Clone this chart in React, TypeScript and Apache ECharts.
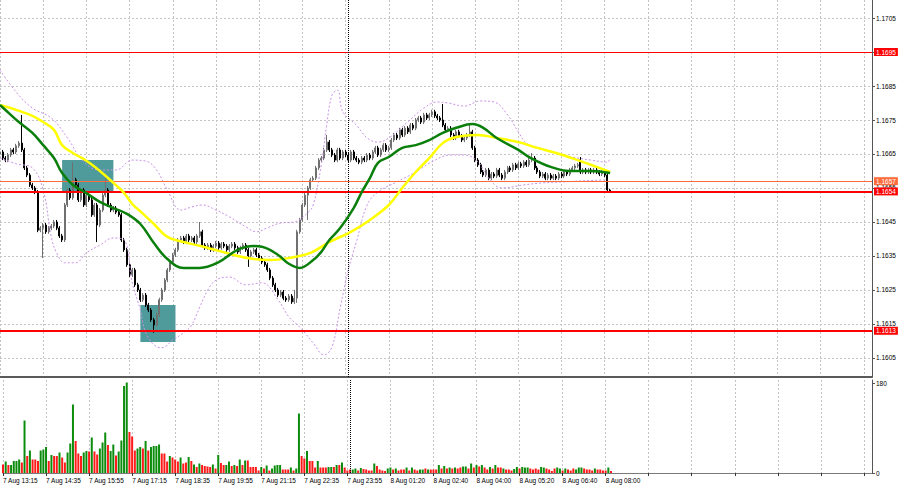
import React, { useEffect, useRef } from 'react';
import * as echarts from 'echarts';

const tickLabels = ['7 Aug 13:15', '7 Aug 14:35', '7 Aug 15:55', '7 Aug 17:15', '7 Aug 18:35', '7 Aug 19:55', '7 Aug 21:15', '7 Aug 22:35', '7 Aug 23:55', '8 Aug 01:20', '8 Aug 02:40', '8 Aug 04:00', '8 Aug 05:20', '8 Aug 06:40', '8 Aug 08:00'];
const priceTicks = [1.1605, 1.1615, 1.1625, 1.1635, 1.1645, 1.1655, 1.1665, 1.1675, 1.1685, 1.1695, 1.1705];
const volumeTicks = [0, 180];

const opens = [
  1.16650, 1.16656, 1.16638, 1.16632, 1.16647, 1.16662, 1.16656, 1.16674, 1.16682, 1.16662,
  1.16609, 1.16588, 1.16559, 1.16550, 1.16538, 1.16426, 1.16432, 1.16441, 1.16421, 1.16432,
  1.16438, 1.16450, 1.16432, 1.16409, 1.16397, 1.16500, 1.16544, 1.16521, 1.16574, 1.16559,
  1.16515, 1.16544, 1.16500, 1.16529, 1.16515, 1.16471, 1.16500, 1.16441, 1.16485, 1.16529,
  1.16544, 1.16500, 1.16485, 1.16491, 1.16479, 1.16471, 1.16397, 1.16368, 1.16324, 1.16294,
  1.16309, 1.16265, 1.16250, 1.16221, 1.16235, 1.16206, 1.16191, 1.16162, 1.16147, 1.16177,
  1.16221, 1.16250, 1.16279, 1.16309, 1.16332, 1.16353, 1.16368, 1.16397, 1.16403, 1.16391,
  1.16409, 1.16397, 1.16403, 1.16391, 1.16409, 1.16421, 1.16382, 1.16374, 1.16382, 1.16368,
  1.16379, 1.16388, 1.16374, 1.16385, 1.16379, 1.16368, 1.16379, 1.16385, 1.16374, 1.16362,
  1.16374, 1.16382, 1.16368, 1.16350, 1.16362, 1.16368, 1.16353, 1.16344, 1.16332, 1.16324,
  1.16309, 1.16285, 1.16265, 1.16250, 1.16235, 1.16244, 1.16226, 1.16221, 1.16232, 1.16215,
  1.16226, 1.16421, 1.16456, 1.16500, 1.16529, 1.16550, 1.16574, 1.16579, 1.16609, 1.16632,
  1.16638, 1.16662, 1.16685, 1.16662, 1.16647, 1.16632, 1.16662, 1.16638, 1.16656, 1.16647,
  1.16632, 1.16656, 1.16638, 1.16632, 1.16626, 1.16638, 1.16632, 1.16647, 1.16638, 1.16656,
  1.16668, 1.16647, 1.16662, 1.16676, 1.16662, 1.16668, 1.16691, 1.16706, 1.16697, 1.16721,
  1.16706, 1.16726, 1.16715, 1.16735, 1.16726, 1.16750, 1.16756, 1.16744, 1.16765, 1.16756,
  1.16765, 1.16774, 1.16762, 1.16756, 1.16750, 1.16735, 1.16721, 1.16726, 1.16706, 1.16697,
  1.16715, 1.16703, 1.16691, 1.16697, 1.16706, 1.16715, 1.16668, 1.16632, 1.16618, 1.16597,
  1.16588, 1.16603, 1.16579, 1.16591, 1.16585, 1.16603, 1.16588, 1.16579, 1.16597, 1.16609,
  1.16603, 1.16618, 1.16609, 1.16621, 1.16615, 1.16626, 1.16618, 1.16632, 1.16638, 1.16609,
  1.16597, 1.16585, 1.16591, 1.16579, 1.16588, 1.16579, 1.16585, 1.16579, 1.16591, 1.16585,
  1.16597, 1.16591, 1.16603, 1.16609, 1.16615, 1.16632, 1.16597, 1.16603, 1.16597, 1.16603,
  1.16597, 1.16603, 1.16597, 1.16591, 1.16597, 1.16588, 1.16544,
];
const closes = [
  1.16656, 1.16638, 1.16632, 1.16647, 1.16662, 1.16656, 1.16674, 1.16682, 1.16662, 1.16609,
  1.16588, 1.16559, 1.16550, 1.16538, 1.16426, 1.16432, 1.16441, 1.16421, 1.16432, 1.16438,
  1.16450, 1.16432, 1.16409, 1.16397, 1.16500, 1.16544, 1.16521, 1.16574, 1.16559, 1.16515,
  1.16544, 1.16500, 1.16529, 1.16515, 1.16471, 1.16500, 1.16441, 1.16485, 1.16529, 1.16544,
  1.16500, 1.16485, 1.16491, 1.16479, 1.16471, 1.16397, 1.16368, 1.16324, 1.16294, 1.16309,
  1.16265, 1.16250, 1.16221, 1.16235, 1.16206, 1.16191, 1.16162, 1.16147, 1.16177, 1.16221,
  1.16250, 1.16279, 1.16309, 1.16332, 1.16353, 1.16368, 1.16397, 1.16403, 1.16391, 1.16409,
  1.16397, 1.16403, 1.16391, 1.16409, 1.16421, 1.16382, 1.16374, 1.16382, 1.16368, 1.16379,
  1.16388, 1.16374, 1.16385, 1.16379, 1.16368, 1.16379, 1.16385, 1.16374, 1.16362, 1.16374,
  1.16382, 1.16368, 1.16350, 1.16362, 1.16368, 1.16353, 1.16344, 1.16332, 1.16324, 1.16309,
  1.16285, 1.16265, 1.16250, 1.16235, 1.16244, 1.16226, 1.16221, 1.16232, 1.16215, 1.16226,
  1.16421, 1.16456, 1.16500, 1.16529, 1.16550, 1.16574, 1.16579, 1.16609, 1.16632, 1.16638,
  1.16662, 1.16685, 1.16662, 1.16647, 1.16632, 1.16662, 1.16638, 1.16656, 1.16647, 1.16632,
  1.16656, 1.16638, 1.16632, 1.16626, 1.16638, 1.16632, 1.16647, 1.16638, 1.16656, 1.16668,
  1.16647, 1.16662, 1.16676, 1.16662, 1.16668, 1.16691, 1.16706, 1.16697, 1.16721, 1.16706,
  1.16726, 1.16715, 1.16735, 1.16726, 1.16750, 1.16756, 1.16744, 1.16765, 1.16756, 1.16765,
  1.16774, 1.16762, 1.16756, 1.16750, 1.16735, 1.16721, 1.16726, 1.16706, 1.16697, 1.16715,
  1.16703, 1.16691, 1.16697, 1.16706, 1.16715, 1.16668, 1.16632, 1.16618, 1.16597, 1.16588,
  1.16603, 1.16579, 1.16591, 1.16585, 1.16603, 1.16588, 1.16579, 1.16597, 1.16609, 1.16603,
  1.16618, 1.16609, 1.16621, 1.16615, 1.16626, 1.16618, 1.16632, 1.16638, 1.16609, 1.16597,
  1.16585, 1.16591, 1.16579, 1.16588, 1.16579, 1.16585, 1.16579, 1.16591, 1.16585, 1.16597,
  1.16591, 1.16603, 1.16609, 1.16615, 1.16618, 1.16597, 1.16603, 1.16597, 1.16603, 1.16597,
  1.16603, 1.16597, 1.16591, 1.16597, 1.16588, 1.16544, 1.16538,
];
const lows = [
  1.16644, 1.16632, 1.16626, 1.16626, 1.16641, 1.16650, 1.16650, 1.16668, 1.16656, 1.16603,
  1.16582, 1.16553, 1.16544, 1.16532, 1.16420, 1.16420, 1.16344, 1.16415, 1.16415, 1.16426,
  1.16432, 1.16426, 1.16403, 1.16391, 1.16391, 1.16494, 1.16515, 1.16515, 1.16553, 1.16509,
  1.16509, 1.16494, 1.16494, 1.16509, 1.16465, 1.16465, 1.16391, 1.16435, 1.16479, 1.16523,
  1.16494, 1.16479, 1.16479, 1.16473, 1.16465, 1.16391, 1.16362, 1.16318, 1.16288, 1.16288,
  1.16259, 1.16244, 1.16215, 1.16215, 1.16200, 1.16185, 1.16156, 1.16124, 1.16141, 1.16171,
  1.16215, 1.16244, 1.16273, 1.16303, 1.16326, 1.16347, 1.16362, 1.16391, 1.16385, 1.16385,
  1.16391, 1.16391, 1.16385, 1.16385, 1.16403, 1.16376, 1.16368, 1.16368, 1.16362, 1.16362,
  1.16373, 1.16368, 1.16368, 1.16373, 1.16362, 1.16362, 1.16373, 1.16368, 1.16356, 1.16356,
  1.16368, 1.16362, 1.16318, 1.16344, 1.16356, 1.16347, 1.16338, 1.16326, 1.16318, 1.16303,
  1.16279, 1.16259, 1.16244, 1.16229, 1.16229, 1.16220, 1.16215, 1.16215, 1.16209, 1.16209,
  1.16212, 1.16415, 1.16450, 1.16494, 1.16456, 1.16544, 1.16568, 1.16573, 1.16603, 1.16626,
  1.16632, 1.16656, 1.16656, 1.16641, 1.16626, 1.16626, 1.16632, 1.16632, 1.16641, 1.16626,
  1.16626, 1.16632, 1.16626, 1.16620, 1.16620, 1.16626, 1.16626, 1.16632, 1.16632, 1.16650,
  1.16641, 1.16641, 1.16656, 1.16656, 1.16656, 1.16662, 1.16685, 1.16691, 1.16691, 1.16700,
  1.16700, 1.16709, 1.16709, 1.16720, 1.16720, 1.16744, 1.16738, 1.16738, 1.16750, 1.16750,
  1.16759, 1.16756, 1.16750, 1.16744, 1.16729, 1.16715, 1.16715, 1.16700, 1.16691, 1.16691,
  1.16697, 1.16685, 1.16685, 1.16691, 1.16700, 1.16662, 1.16626, 1.16612, 1.16591, 1.16582,
  1.16582, 1.16573, 1.16573, 1.16579, 1.16579, 1.16582, 1.16573, 1.16573, 1.16591, 1.16597,
  1.16597, 1.16603, 1.16603, 1.16609, 1.16609, 1.16612, 1.16612, 1.16626, 1.16603, 1.16591,
  1.16579, 1.16579, 1.16573, 1.16573, 1.16573, 1.16573, 1.16573, 1.16573, 1.16579, 1.16579,
  1.16585, 1.16585, 1.16597, 1.16603, 1.16609, 1.16591, 1.16591, 1.16591, 1.16591, 1.16591,
  1.16591, 1.16591, 1.16585, 1.16585, 1.16582, 1.16538, 1.16535,
];
const highs = [
  1.16662, 1.16662, 1.16644, 1.16653, 1.16668, 1.16668, 1.16680, 1.16688, 1.16765, 1.16668,
  1.16615, 1.16594, 1.16565, 1.16556, 1.16544, 1.16438, 1.16447, 1.16447, 1.16438, 1.16444,
  1.16456, 1.16456, 1.16438, 1.16415, 1.16506, 1.16550, 1.16550, 1.16626, 1.16580, 1.16565,
  1.16550, 1.16550, 1.16535, 1.16535, 1.16521, 1.16506, 1.16506, 1.16491, 1.16535, 1.16588,
  1.16550, 1.16506, 1.16497, 1.16497, 1.16485, 1.16477, 1.16403, 1.16374, 1.16330, 1.16315,
  1.16315, 1.16271, 1.16256, 1.16241, 1.16241, 1.16212, 1.16197, 1.16168, 1.16183, 1.16227,
  1.16256, 1.16285, 1.16315, 1.16338, 1.16359, 1.16374, 1.16403, 1.16409, 1.16409, 1.16415,
  1.16415, 1.16409, 1.16409, 1.16415, 1.16450, 1.16427, 1.16388, 1.16388, 1.16388, 1.16385,
  1.16394, 1.16394, 1.16391, 1.16391, 1.16385, 1.16385, 1.16391, 1.16391, 1.16380, 1.16380,
  1.16388, 1.16388, 1.16374, 1.16368, 1.16374, 1.16374, 1.16359, 1.16350, 1.16338, 1.16330,
  1.16315, 1.16291, 1.16271, 1.16256, 1.16250, 1.16250, 1.16232, 1.16238, 1.16238, 1.16250,
  1.16427, 1.16462, 1.16506, 1.16535, 1.16556, 1.16580, 1.16585, 1.16615, 1.16638, 1.16644,
  1.16668, 1.16706, 1.16691, 1.16668, 1.16653, 1.16668, 1.16668, 1.16662, 1.16662, 1.16653,
  1.16662, 1.16662, 1.16644, 1.16638, 1.16644, 1.16644, 1.16653, 1.16653, 1.16662, 1.16674,
  1.16674, 1.16668, 1.16682, 1.16682, 1.16674, 1.16697, 1.16712, 1.16712, 1.16727, 1.16727,
  1.16732, 1.16732, 1.16741, 1.16741, 1.16756, 1.16762, 1.16762, 1.16771, 1.16771, 1.16771,
  1.16780, 1.16780, 1.16768, 1.16762, 1.16797, 1.16741, 1.16732, 1.16732, 1.16712, 1.16721,
  1.16721, 1.16709, 1.16703, 1.16712, 1.16735, 1.16721, 1.16674, 1.16638, 1.16624, 1.16603,
  1.16609, 1.16609, 1.16597, 1.16597, 1.16609, 1.16609, 1.16594, 1.16603, 1.16615, 1.16615,
  1.16624, 1.16624, 1.16627, 1.16627, 1.16632, 1.16632, 1.16638, 1.16653, 1.16644, 1.16615,
  1.16603, 1.16597, 1.16597, 1.16594, 1.16594, 1.16591, 1.16591, 1.16597, 1.16597, 1.16603,
  1.16603, 1.16609, 1.16615, 1.16621, 1.16624, 1.16641, 1.16609, 1.16609, 1.16609, 1.16609,
  1.16609, 1.16609, 1.16603, 1.16603, 1.16603, 1.16594, 1.16547,
];

const volumes = [
  17, 23, 16, 16, 24, 24, 27, 21, 105, 34,
  45, 27, 27, 24, 45, 47, 52, 24, 36, 34,
  34, 41, 31, 21, 41, 59, 137, 64, 39, 34,
  41, 44, 43, 71, 43, 37, 49, 61, 81, 56,
  44, 57, 35, 43, 65, 174, 181, 82, 73, 45,
  49, 52, 49, 64, 45, 52, 54, 54, 57, 39,
  39, 23, 34, 31, 27, 23, 31, 19, 21, 32,
  24, 17, 12, 19, 16, 14, 13, 12, 17, 9,
  36, 20, 16, 16, 23, 14, 16, 14, 27, 16,
  25, 25, 12, 12, 12, 5, 12, 9, 15, 5,
  9, 15, 16, 16, 7, 7, 7, 11, 5, 9,
  119, 34, 29, 44, 24, 24, 11, 24, 11, 11,
  11, 12, 12, 12, 16, 16, 21, 11, 5, 7,
  7, 9, 5, 10, 8, 7, 5, 5, 19, 14,
  7, 5, 4, 9, 11, 7, 9, 5, 7, 7,
  11, 5, 11, 7, 5, 7, 7, 9, 7, 7,
  7, 7, 16, 9, 14, 9, 11, 9, 11, 9,
  11, 13, 13, 9, 19, 11, 16, 13, 16, 11,
  7, 12, 9, 16, 11, 11, 9, 7, 7, 5,
  8, 12, 9, 12, 11, 11, 9, 7, 9, 7,
  12, 11, 9, 7, 4, 9, 11, 9, 5, 9,
  7, 5, 9, 7, 11, 11, 9, 7, 7, 5,
  9, 7, 7, 5, 5, 11, 4,
];
const volumeRising = [
  0, 1, 0, 1, 1, 1, 1, 0, 1, 0,
  1, 0, 0, 0, 1, 1, 1, 0, 1, 0,
  0, 1, 0, 0, 1, 1, 1, 0, 0, 0,
  1, 1, 0, 1, 0, 0, 1, 1, 1, 0,
  1, 1, 0, 1, 1, 1, 1, 0, 0, 0,
  1, 1, 0, 1, 0, 1, 1, 1, 1, 0,
  0, 0, 1, 0, 0, 0, 1, 0, 0, 1,
  0, 1, 0, 1, 0, 0, 0, 0, 1, 0,
  1, 0, 0, 1, 1, 0, 1, 0, 1, 0,
  1, 0, 0, 0, 0, 0, 1, 0, 1, 0,
  1, 1, 1, 1, 0, 0, 0, 1, 0, 1,
  1, 0, 0, 1, 0, 0, 0, 1, 0, 0,
  0, 1, 1, 0, 1, 0, 1, 0, 0, 0,
  1, 1, 0, 1, 0, 0, 0, 0, 1, 0,
  0, 0, 0, 1, 1, 0, 1, 0, 0, 0,
  1, 0, 1, 0, 0, 1, 1, 0, 1, 0,
  0, 0, 1, 0, 1, 0, 1, 0, 1, 0,
  0, 1, 1, 0, 1, 0, 1, 0, 1, 0,
  0, 1, 0, 1, 0, 0, 1, 0, 0, 0,
  1, 1, 0, 1, 1, 1, 0, 0, 0, 0,
  1, 1, 0, 0, 0, 0, 1, 1, 0, 1,
  0, 0, 0, 1, 1, 1, 0, 0, 0, 0,
  1, 0, 0, 0, 0, 1, 0,
];

// [bar index, value] pairs
const greenMA = [
  [0, 1.16794], [4, 1.16765], [7, 1.16744], [12, 1.16712], [16, 1.16676], [20, 1.16638], [23, 1.16594],
  [27, 1.16559], [32, 1.16535], [37, 1.16509], [42, 1.16491], [47, 1.16474], [52, 1.16444], [57, 1.16388],
  [62, 1.16341], [68, 1.16315], [74, 1.16315], [81, 1.16332], [88, 1.16368], [94, 1.16379], [97, 1.16377],
  [103, 1.16353], [107, 1.16327], [111, 1.16315], [116, 1.16338], [119, 1.16362], [122, 1.16397],
  [126, 1.16432], [131, 1.16491], [134, 1.16538], [137, 1.16579], [140, 1.16624], [144, 1.16641],
  [149, 1.16668], [154, 1.16676], [159, 1.16691], [164, 1.16712], [169, 1.16727], [175, 1.16738],
  [179, 1.16727], [184, 1.16697], [192, 1.16662], [196, 1.16641], [204, 1.16612], [211, 1.16600],
  [219, 1.16600], [226, 1.16594],
];
const yellowMA = [
  [0, 1.16794], [7, 1.16777], [12, 1.16762], [16, 1.16744], [20, 1.16721], [23, 1.16676], [27, 1.16653],
  [32, 1.16630], [37, 1.16600], [42, 1.16565], [46, 1.16535], [49, 1.16503], [53, 1.16474], [57, 1.16444],
  [62, 1.16406], [68, 1.16391], [74, 1.16380], [81, 1.16365], [88, 1.16350], [94, 1.16341], [100, 1.16338],
  [107, 1.16344], [115, 1.16359], [122, 1.16391], [130, 1.16421], [137, 1.16456], [144, 1.16500],
  [149, 1.16550], [154, 1.16597], [159, 1.16638], [164, 1.16682], [169, 1.16700], [177, 1.16706],
  [184, 1.16697], [192, 1.16685], [199, 1.16668], [206, 1.16653], [214, 1.16632], [221, 1.16612],
  [226, 1.16597],
];
const bandUpper = [
  [0, 1.16897], [6, 1.16832], [12, 1.16785], [19, 1.16756], [25, 1.16697], [31, 1.16627], [37, 1.16603],
  [43, 1.16603], [49, 1.16632], [54, 1.16629], [58, 1.16603], [62, 1.16544], [67, 1.16485], [71, 1.16494],
  [75, 1.16500], [80, 1.16485], [85, 1.16465], [91, 1.16436], [95, 1.16421], [99, 1.16433], [104, 1.16447],
  [109, 1.16450], [114, 1.16477], [116, 1.16500], [119, 1.16618], [121, 1.16735], [123, 1.16824],
  [125, 1.16838], [127, 1.16774], [132, 1.16735], [136, 1.16697], [140, 1.16685], [144, 1.16697],
  [151, 1.16744], [157, 1.16785], [162, 1.16803], [166, 1.16800], [172, 1.16791], [178, 1.16806],
  [183, 1.16803], [188, 1.16765], [192, 1.16715], [195, 1.16682], [200, 1.16668], [206, 1.16653],
  [212, 1.16641], [219, 1.16632], [225, 1.16626], [226, 1.16638],
];
const bandLower = [
  [0, 1.16638], [6, 1.16621], [12, 1.16609], [16, 1.16544], [19, 1.16406], [21, 1.16359], [24, 1.16330],
  [28, 1.16330], [32, 1.16359], [37, 1.16382], [42, 1.16403], [46, 1.16397], [49, 1.16271], [52, 1.16191],
  [54, 1.16124], [58, 1.16083], [60, 1.16080], [64, 1.16103], [68, 1.16124], [71, 1.16147], [74, 1.16200],
  [77, 1.16250], [80, 1.16279], [85, 1.16288], [91, 1.16265], [97, 1.16271], [103, 1.16221], [107, 1.16171],
  [111, 1.16141], [116, 1.16094], [120, 1.16059], [123, 1.16083], [126, 1.16197], [129, 1.16309],
  [132, 1.16391], [136, 1.16500], [140, 1.16538], [147, 1.16568], [154, 1.16597], [160, 1.16627],
  [167, 1.16647], [172, 1.16647], [177, 1.16627], [181, 1.16579], [186, 1.16550], [194, 1.16559],
  [201, 1.16565], [209, 1.16568], [216, 1.16571], [225, 1.16574],
];

const levelPrices = [1.1695, 1.1657, 1.1654, 1.1613];
const zones = [
  [23, 1.16632, 42, 1.16538],
  [52, 1.16206, 65, 1.16097],
];
const daySeparatorIndex = 129;
const SLOTS = 324;
const BARS_PER_LABEL = 16;

const FONT = '"Liberation Sans", Arial, sans-serif';
const GRID_LINE = { type: [2, 2] as number[], color: '#c4c4c4', width: 1 };

export default function App() {
  const ref = useRef<HTMLDivElement>(null);

  useEffect(() => {
    if (!ref.current) return;
    const chart = echarts.init(ref.current, undefined, { renderer: 'svg' });
    const categories = Array.from({ length: SLOTS }, (_, i) => String(i));
    const candleData = opens.map((o, i) => [o, closes[i], lows[i], highs[i]]);
    const volumeData = volumes.map((v, i) => ({
      value: v,
      itemStyle: { color: volumeRising[i] ? '#0c8c0c' : '#ff1a1a' },
    }));
    const levelStyles = [
      { color: '#ff0000', width: 1 },
      { color: '#ff6a3a', width: 1 },
      { color: '#ff0000', width: 2 },
      { color: '#ff0000', width: 2 },
    ];
    const levelBg = ['#ff0000', '#ff6a3a', '#ff0000', '#ff0000'];

    const option: any = {
      animation: false,
      backgroundColor: '#ffffff',
      textStyle: { fontFamily: FONT },
      grid: [
        { left: 0, right: 28, top: 0, height: 377 },
        { left: 0, right: 28, top: 380, height: 93 },
      ],
      xAxis: [
        {
          type: 'category', gridIndex: 0, data: categories, boundaryGap: false,
          axisLine: { show: true, lineStyle: { color: '#5a5a5a', width: 2 } },
          axisTick: { show: false }, axisLabel: { show: false },
          splitLine: { show: true, interval: BARS_PER_LABEL - 1, lineStyle: GRID_LINE },
        },
        {
          type: 'category', gridIndex: 1, data: categories, boundaryGap: false,
          axisLine: { show: true, lineStyle: { color: '#7a7a7a', width: 1 } },
          axisTick: { show: true, interval: BARS_PER_LABEL - 1, length: 3, lineStyle: { color: '#333' } },
          axisLabel: {
            show: true, interval: BARS_PER_LABEL - 1, align: 'left', margin: 4,
            fontSize: 6.5, color: '#000', fontFamily: FONT,
            formatter: (_v: string, idx: number) =>
              idx % BARS_PER_LABEL === 0 ? tickLabels[idx / BARS_PER_LABEL] ?? '' : '',
          },
          splitLine: { show: true, interval: BARS_PER_LABEL - 1, lineStyle: GRID_LINE },
        },
      ],
      yAxis: [
        {
          type: 'value', gridIndex: 0, position: 'right', min: 1.15994, max: 1.17103, scale: true,
          axisLine: { show: true, lineStyle: { color: '#555', width: 1 } },
          axisTick: { show: true, customValues: priceTicks, length: 3, lineStyle: { color: '#555' } },
          axisLabel: {
            show: true, customValues: priceTicks, margin: 4, fontSize: 6.5, color: '#000', fontFamily: FONT,
            formatter: (v: number) => v.toFixed(4),
          },
          splitLine: { show: true, lineStyle: GRID_LINE },
        },
        {
          type: 'value', gridIndex: 1, position: 'right', min: 0, max: 186,
          axisLine: { show: true, lineStyle: { color: '#555', width: 1 } },
          axisTick: { show: true, customValues: volumeTicks, length: 3, lineStyle: { color: '#555' } },
          axisLabel: {
            show: true, customValues: volumeTicks, margin: 4, fontSize: 6.5, color: '#000', fontFamily: FONT,
          },
          splitLine: { show: false },
        },
      ],
      series: [
        {
          type: 'candlestick', xAxisIndex: 0, yAxisIndex: 0, z: 3,
          data: candleData, barWidth: 1.5,
          itemStyle: {
            color: '#d8d8d8', borderColor: '#707070', color0: '#000000', borderColor0: '#000000', borderWidth: 1,
          },
          markArea: {
            silent: true, z: 1,
            itemStyle: { color: '#4f9a9b', opacity: 1 },
            label: { show: false },
            data: zones.map((z) => [{ xAxis: z[0], yAxis: z[1] }, { xAxis: z[2], yAxis: z[3] }]),
          },
        },
        {
          type: 'line', xAxisIndex: 0, yAxisIndex: 0, z: 4, data: bandUpper, smooth: 0.4, showSymbol: false,
          lineStyle: { color: '#c792e6', width: 1, type: [2, 2] },
        },
        {
          type: 'line', xAxisIndex: 0, yAxisIndex: 0, z: 4, data: bandLower, smooth: 0.4, showSymbol: false,
          lineStyle: { color: '#c792e6', width: 1, type: [2, 2] },
        },
        {
          type: 'line', xAxisIndex: 0, yAxisIndex: 0, z: 5, data: yellowMA, smooth: 0.4, showSymbol: false,
          lineStyle: { color: '#ffff00', width: 2.5 },
        },
        {
          type: 'line', xAxisIndex: 0, yAxisIndex: 0, z: 5, data: greenMA, smooth: 0.4, showSymbol: false,
          lineStyle: { color: '#0b7f0b', width: 2.5 },
        },
        {
          type: 'line', xAxisIndex: 0, yAxisIndex: 0, z: 6, data: [], showSymbol: false,
          markLine: {
            silent: true, symbol: 'none', precision: 6,
            label: {
              show: true, position: 'end', distance: 2, color: '#fff', fontSize: 6.5, fontFamily: FONT,
              padding: [0, 2, 0, 2], lineHeight: 8,
            },
            data: [
              ...levelPrices.map((p, i) => ({
                yAxis: p,
                lineStyle: { type: 'solid', ...levelStyles[i] },
                label: { formatter: p.toFixed(4), backgroundColor: levelBg[i] },
              })),
              { xAxis: daySeparatorIndex, lineStyle: { type: 'dotted', color: '#000', width: 1 }, label: { show: false } },
            ],
          },
        },
        {
          type: 'bar', xAxisIndex: 1, yAxisIndex: 1, data: volumeData, barWidth: 2, z: 3,
          markLine: {
            silent: true, symbol: 'none',
            label: { show: false },
            data: [{ xAxis: daySeparatorIndex, lineStyle: { type: 'dotted', color: '#000', width: 1 } }],
          },
        },
      ],
    };
    chart.setOption(option);
    return () => chart.dispose();
  }, []);

  return (
    <div
      ref={ref}
      style={{ position: 'absolute', left: 0, top: 0, width: 900, height: 488, background: '#fff' }}
    />
  );
}
